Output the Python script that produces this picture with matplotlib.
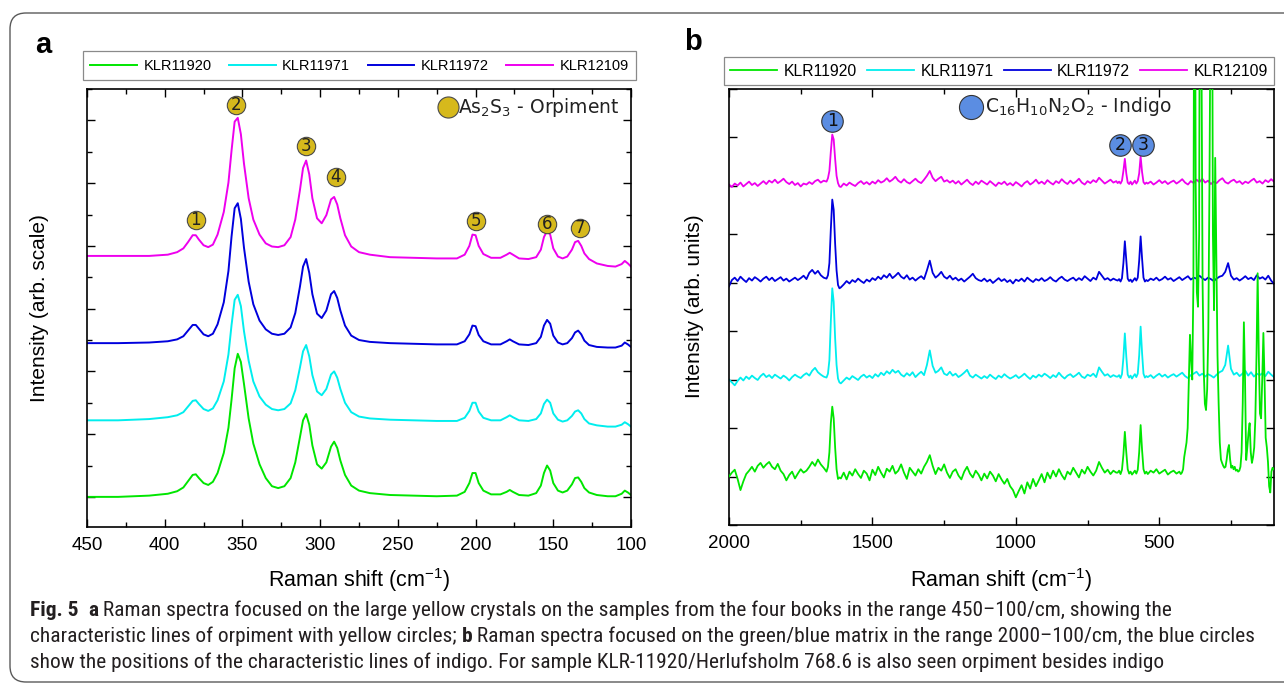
import numpy as np
import matplotlib
matplotlib.use('Agg')
import matplotlib.pyplot as plt
from matplotlib import font_manager as fm
from matplotlib.patches import FancyBboxPatch
from matplotlib.ticker import MultipleLocator
from matplotlib.transforms import IdentityTransform

plt.rcParams['font.family'] = ['Liberation Sans', 'DejaVu Sans']
plt.rcParams['mathtext.default'] = 'regular'

W, H = 1284, 687

# ---------------- data ----------------
samples = ['KLR11920', 'KLR11971', 'KLR11972', 'KLR12109']
colors = ['#00e600', '#00eeee', '#0000dd', '#ee00ee']

# Panel a: Raman shift grid (cm-1) and relative intensities
shift_a = [450, 430, 410, 398, 392, 388, 385, 382, 380, 378,
           375, 372, 369, 366, 362, 359, 357, 355, 353, 351,
           349, 346, 343, 339, 335, 331, 327, 323, 319, 316,
           313, 311, 309, 307, 305, 302, 299, 296, 293, 291,
           289, 287, 284, 280, 275, 268, 255, 240, 225, 212,
           207, 204, 202, 200, 198, 195, 190, 184, 180, 178,
           176, 172, 166, 161, 158, 156, 154, 152, 150, 147,
           144, 141, 138, 136, 134, 132, 130, 127, 122, 115,
           110, 106, 104, 102, 100]

a_klr11920 = [0.00, 0.00, 0.02, 0.05, 0.09, 0.15, 0.25, 0.35, 0.36, 0.30,
              0.22, 0.19, 0.24, 0.38, 0.70, 1.10, 1.55, 2.05, 2.28, 2.15,
              1.80, 1.25, 0.85, 0.52, 0.30, 0.17, 0.14, 0.17, 0.30, 0.55,
              0.95, 1.22, 1.32, 1.15, 0.82, 0.52, 0.45, 0.55, 0.80, 0.88,
              0.78, 0.58, 0.35, 0.18, 0.10, 0.06, 0.03, 0.02, 0.01, 0.02,
              0.08, 0.22, 0.38, 0.38, 0.22, 0.10, 0.04, 0.04, 0.08, 0.11,
              0.08, 0.03, 0.02, 0.06, 0.18, 0.38, 0.50, 0.42, 0.22, 0.10,
              0.07, 0.10, 0.20, 0.30, 0.31, 0.24, 0.14, 0.07, 0.03, 0.01,
              0.01, 0.05, 0.10, 0.07, 0.03]
a_klr11971 = [0.00, 0.00, 0.02, 0.05, 0.08, 0.13, 0.22, 0.31, 0.32, 0.26,
              0.18, 0.15, 0.19, 0.32, 0.62, 1.05, 1.52, 1.92, 2.00, 1.82,
              1.42, 0.95, 0.62, 0.38, 0.25, 0.18, 0.16, 0.18, 0.27, 0.48,
              0.84, 1.10, 1.20, 1.02, 0.72, 0.46, 0.40, 0.50, 0.73, 0.78,
              0.68, 0.50, 0.28, 0.13, 0.06, 0.03, 0.01, 0.00, -0.01, -0.01,
              0.04, 0.15, 0.28, 0.28, 0.14, 0.04, 0.00, 0.00, 0.05, 0.08,
              0.05, 0.00, -0.01, 0.02, 0.11, 0.26, 0.33, 0.28, 0.11, 0.01,
              -0.02, 0.00, 0.07, 0.14, 0.16, 0.11, 0.02, -0.05, -0.08, -0.10,
              -0.10, -0.07, -0.03, -0.06, -0.10]
a_klr11972 = [0.00, 0.00, 0.01, 0.03, 0.06, 0.11, 0.20, 0.29, 0.29, 0.23,
              0.14, 0.11, 0.15, 0.30, 0.65, 1.15, 1.70, 2.15, 2.23, 1.98,
              1.52, 0.98, 0.62, 0.36, 0.22, 0.15, 0.13, 0.15, 0.25, 0.48,
              0.90, 1.22, 1.34, 1.12, 0.78, 0.47, 0.40, 0.52, 0.78, 0.83,
              0.72, 0.52, 0.28, 0.12, 0.05, 0.02, 0.00, -0.01, -0.02, -0.02,
              0.03, 0.14, 0.28, 0.27, 0.13, 0.03, -0.02, -0.02, 0.03, 0.06,
              0.03, -0.02, -0.03, 0.00, 0.10, 0.28, 0.37, 0.31, 0.12, 0.01,
              -0.02, 0.00, 0.08, 0.17, 0.20, 0.14, 0.04, -0.03, -0.06, -0.07,
              -0.07, -0.04, 0.01, -0.02, -0.06]
a_klr12109 = [0.00, 0.00, 0.00, 0.02, 0.06, 0.12, 0.22, 0.33, 0.33, 0.26,
              0.17, 0.14, 0.18, 0.34, 0.70, 1.17, 1.68, 2.14, 2.20, 1.94,
              1.47, 0.92, 0.58, 0.34, 0.20, 0.15, 0.14, 0.17, 0.30, 0.58,
              1.05, 1.40, 1.52, 1.30, 0.92, 0.60, 0.52, 0.65, 0.90, 0.94,
              0.82, 0.60, 0.33, 0.15, 0.06, 0.02, -0.02, -0.03, -0.04, -0.04,
              0.02, 0.16, 0.34, 0.33, 0.16, 0.03, -0.03, -0.03, 0.02, 0.05,
              0.02, -0.04, -0.05, -0.02, 0.10, 0.30, 0.40, 0.34, 0.12, -0.01,
              -0.04, -0.01, 0.10, 0.22, 0.24, 0.16, 0.04, -0.05, -0.12, -0.16,
              -0.17, -0.13, -0.08, -0.12, -0.17]
offsets_a = [0.0, 1.22, 2.45, 3.84]

orpiment_x = [380, 354, 309, 290, 200, 154, 133]
orpiment_y = [4.41, 6.25, 5.59, 5.10, 4.40, 4.35, 4.28]
orpiment_n = ['1', '2', '3', '4', '5', '6', '7']

# Panel b: Raman shift grid (cm-1), intensities in hundredths of a unit
shift_b = np.concatenate([np.arange(2000, 1659, -10), np.arange(1655, 1614, -5),
                          np.arange(1610, 649, -10), np.arange(645, 544, -5),
                          np.arange(540, 99, -10)])
shift_b_green = np.concatenate([np.arange(2000, 1659, -10), np.arange(1655, 1614, -5),
                                np.arange(1610, 649, -10), np.arange(645, 544, -5),
                                np.arange(540, 429, -10), np.arange(425, 100, -4)])

b_klr12109 = """
2 -3 4 0 6 -2 3 8 1 5 -1 4 9 3 10 6 12 5 9 14 7 3 8 1 5 -2 4 2 7 3 9 12 6 10 8
15 30 70 105 95 55 20 5 -2
-3 4 0 6 2 -1 5 9 3 7  2 8 4 11 6 9 15 8 12 18  10 6 13 7 4 9 14 8 5 12
20 30 16 9 14 18 8 11 6 10  4 9 2 7 12 5 1 8 3 10  6 2 9 4 -1 6 3 8 1 5
0 7 3 -2 5 9 2 6 12 4  8 3 11 6 2 9 5 13 7 3  10 4 8 14 6 2 9 5 11 7
16 10 4 8 12 6 9
5 8 4 10 30 55 25 6 3 8 2 6 10 4 9 25 60 28 7 3 6
4 8 2 6 11 5 9 3 7 10  4 8 13 6 2 9 5 12 7 14  6 10 3 8 5 11 15 7 4 9
12 6 9 3 8 5 10 14 6 9  4 11 7 13 8
"""
b_klr11972 = """
-8 5 10 3 12 6 1 9 4 11 7 2 8 12 5 10 3 7 11 4 8 2 6 10 5 9 14 7 20 26 18 24 15 10 8
15 40 110 171 150 80 25 -5 -12
-10 -4 3 -2 5 1 8 3 -1 6  2 9 5 12 7 15 10 18 9 14  20 12 8 15 6 10 4 9 13 7
25 45 20 10 15 22 12 8 14 6  10 4 8 2 7 12 18 9 5 3  8 2 6 -1 4 9 3 7 1 5
-2 6 3 8 2 10 5 1 7 4  9 3 6 11 5 2 8 12 6 3  7 10 4 9 5 13 8 3 10 6
22 14 6 9 4 8 5
4 7 2 9 40 85 45 8 3 6 1 5 9 4 10 45 95 50 10 2 5
3 8 5 10 4 7 12 6 9 3  7 11 5 9 13 6 10 8 14 9  5 10 7 3 8 12 14 22 40 14
6 9 4 8 13 7 10 5 15 8  11 6 14 4 -3
"""
b_klr11971 = """
0 -6 -12 -3 4 -2 6 1 8 3 -1 7 12 5 9 3 10 6 2 8 4 -2 5 10 6 3 9 13 8 18 24 15 10 6 4
12 40 120 188 160 85 30 2 -6
-8 -2 4 0 7 3 -1 6 10 4  8 3 11 6 14 9 17 12 20 14  18 10 6 13 8 15 5 11 16 9
30 60 28 14 18 25 12 9 16 8  12 5 9 14 20 8 4 10 6 2  7 3 10 5 1 8 4 11 6 2
5 9 3 7 12 6 1 8 4 10  6 12 8 3 9 5 14 7 2 8  11 5 9 14 6 3 10 7 12 5
25 16 8 11 5 9 6
6 9 3 11 45 95 48 10 4 8 2 7 11 5 12 50 109 55 12 4 7
5 9 3 8 12 6 10 4 8 11  6 10 14 7 3 9 12 16 8 12  6 11 8 4 10 15 18 30 70 22
10 14 7 12 18 8 15 6 12 9  13 7 16 10 5
"""
b_klr11920 = """
0 8 14 -5 -28 -10 5 12 20 10 22 28 18 25 30 20 15 26 12 5 -8 3 10 -4 6 15 8 12 20 30 22 35 25 18 10
20 50 110 144 120 60 15 -5 -2
-4 8 -6 10 2 15 5 -3 12 6  -8 14 3 20 8 -2 16 10 22 6  12 25 8 -5 18 10 2 15 6 20
30 44 22 5 18 12 25 8 -3 10  15 2 -6 10 20 6 -2 12 4 -8  6 -4 10 2 -10 5 -6 -15 -5 -20
-28 -43 -30 -18 -35 -12 -25 -5 -20 -8  5 -12 8 -4 12 0 15 3 -6 10  4 18 8 -2 14 6 20 10 2 12
30 18 8 14 5 12 8
8 12 5 14 45 92 50 15 6 10 4 8 12 6 14 50 106 55 15 6 10
5 12 8 15 6 10 14 4 9 12 6 10
5 8 15 40 55 70 100 200 292 240 200 400 1400 600 380 350 500 1500 900 400
220 150 137 180 300 600 1000 1300 500 343 657 450 250 150 70 35 28 22 18 20
35 55 65 35 18 22 15 20 12 14 10 12 20 50 150 318 200 34 60 90
110 50 28 40 60 120 250 419 250 130 120 200 296 200 80 60 30 -20 -33 10
18 15
"""
offsets_b = [0.0, 2.0, 4.0, 6.0]

indigo_x = [1640, 636, 556]
indigo_y = [7.33, 6.84, 6.84]
indigo_n = ['1', '2', '3']


def parse(s):
    return np.array(s.split(), dtype=float) / 100.0


vals_b = [parse(b_klr11920), parse(b_klr11971), parse(b_klr11972), parse(b_klr12109)]
xs_b = [shift_b_green, shift_b, shift_b, shift_b]
for xv, yv, nm in zip(xs_b, vals_b, samples):
    assert len(xv) == len(yv), f"{nm}: {len(xv)} vs {len(yv)}"
vals_a = [a_klr11920, a_klr11971, a_klr11972, a_klr12109]
for yv, nm in zip(vals_a, samples):
    assert len(yv) == len(shift_a), f"a {nm}: {len(yv)}"

# ---------------- figure ----------------
fig = plt.figure(figsize=(W / 100, H / 100), dpi=100)
fig.patch.set_facecolor('white')

border = FancyBboxPatch((10, H - 682), 1320, 682 - 13,
                        boxstyle='round,pad=0,rounding_size=16',
                        transform=IdentityTransform(), facecolor='none',
                        edgecolor='#5a5a5a', linewidth=1.0)
fig.patches.append(border)


def style_axes(ax):
    for sp in ax.spines.values():
        sp.set_linewidth(1.2)
        sp.set_color('black')
    ax.tick_params(which='both', direction='in', top=True, right=True,
                   labelleft=False, width=1.0, color='black')
    ax.tick_params(which='major', length=6, labelsize=13.5, pad=7)
    ax.tick_params(which='minor', length=3.5)


# ---- panel a ----
ax_a = fig.add_axes([87 / W, 1 - 527 / H, (631 - 87) / W, (527 - 89) / H])
handles = []
for yv, off, col, nm in zip(vals_a, offsets_a, colors, samples):
    ln, = ax_a.plot(shift_a, np.array(yv) + off, color=col, lw=1.4, label=nm)
    handles.append(ln)
ax_a.set_xlim(450, 100)
ax_a.set_ylim(-0.48, 6.5)
ax_a.xaxis.set_major_locator(MultipleLocator(50))
ax_a.xaxis.set_minor_locator(MultipleLocator(25))
ax_a.yaxis.set_major_locator(MultipleLocator(1))
ax_a.yaxis.set_minor_locator(MultipleLocator(0.5))
style_axes(ax_a)

ax_a.scatter(orpiment_x, orpiment_y, s=175, c='#d6b91c', edgecolors='#4a4a4a',
             linewidths=0.8, zorder=6)
for x, y, n in zip(orpiment_x, orpiment_y, orpiment_n):
    ax_a.text(x, y, n, ha='center', va='center', fontsize=12, family='DejaVu Sans',
              color='#222222', zorder=7)
ax_a.scatter([218], [6.21], s=230, c='#d6b91c', edgecolors='#4a4a4a', linewidths=0.8, zorder=6)
ax_a.text(211, 6.21, 'As$_2$S$_3$ - Orpiment', ha='left', va='center', fontsize=13.5,
          family='DejaVu Sans', color='#222222')

leg_a = ax_a.legend(handles=handles, loc='lower left',
                    bbox_to_anchor=(-0.0074, 1.0205, 1.0165, 0.07), mode='expand',
                    ncol=4, fancybox=False, edgecolor='#8a8a8a', fontsize=10.5,
                    handlelength=3.2, handletextpad=0.45, borderaxespad=0,
                    borderpad=0.5, columnspacing=1.0, framealpha=1)
leg_a.get_frame().set_linewidth(0.9)

fig.text(87 / W + (631 - 87) / W / 2, 1 - 580 / H, 'Raman shift (cm$^{-1}$)',
         ha='center', va='center', fontsize=15.5)
fig.text(40 / W, 1 - 308 / H, 'Intensity (arb. scale)', rotation=90,
         ha='center', va='center', fontsize=15)
fig.text(43 / W, 1 - 45 / H, 'a', ha='center', va='center', fontsize=21, fontweight='bold')

# ---- panel b ----
ax_b = fig.add_axes([729 / W, 1 - 525 / H, (1274 - 729) / W, (525 - 88.5) / H])
handles_b = []
zord = [3, 2, 2, 2]
for xv, yv, off, col, nm, z in zip(xs_b, vals_b, offsets_b, colors, samples, zord):
    ln, = ax_b.plot(xv, yv + off, color=col, lw=1.3, label=nm, zorder=z)
    handles_b.append(ln)
ax_b.set_xlim(2000, 100)
ax_b.set_ylim(-1, 8)
ax_b.xaxis.set_major_locator(MultipleLocator(500))
ax_b.xaxis.set_minor_locator(MultipleLocator(250))
ax_b.yaxis.set_major_locator(MultipleLocator(1))
style_axes(ax_b)

ax_b.scatter(indigo_x, indigo_y, s=240, c='#5b8de2', edgecolors='#333333',
             linewidths=0.8, zorder=6)
for x, y, n in zip(indigo_x, indigo_y, indigo_n):
    ax_b.text(x, y, n, ha='center', va='center', fontsize=12.5, family='DejaVu Sans',
              color='#111111', zorder=7)
ax_b.scatter([1157], [7.62], s=300, c='#5b8de2', edgecolors='#333333', linewidths=0.8, zorder=6)
ax_b.text(1108, 7.62, 'C$_{16}$H$_{10}$N$_2$O$_2$ - Indigo', ha='left', va='center',
          fontsize=13.5, family='DejaVu Sans', color='#222222')

leg_b = ax_b.legend(handles=handles_b, loc='lower left',
                    bbox_to_anchor=(-0.009, 1.008, 1.009, 0.07), mode='expand',
                    ncol=4, fancybox=False, edgecolor='#8a8a8a', fontsize=11.3,
                    handlelength=3.0, handletextpad=0.4, borderaxespad=0,
                    borderpad=0.4, columnspacing=0.5, framealpha=1)
leg_b.get_frame().set_linewidth(0.9)

fig.text(729 / W + (1274 - 729) / W / 2, 1 - 580 / H, 'Raman shift (cm$^{-1}$)',
         ha='center', va='center', fontsize=15.5)
fig.text(695 / W, 1 - 306 / H, 'Intensity (arb. units)', rotation=90,
         ha='center', va='center', fontsize=15)
fig.text(693 / W, 1 - 42 / H, 'b', ha='center', va='center', fontsize=21, fontweight='bold')

# ---- caption ----
def _wnum(w):
    if isinstance(w, (int, float)):
        return float(w)
    table = {'thin': 100, 'extralight': 200, 'ultralight': 200, 'light': 300,
             'normal': 400, 'regular': 400, 'book': 400, 'medium': 500,
             'semibold': 600, 'demibold': 600, 'bold': 700, 'extrabold': 800,
             'heavy': 900, 'black': 900}
    return float(table.get(str(w).lower(), 400))


def _is_narrow(f):
    st = str(f.stretch).lower()
    nm = f.name.lower()
    fn = str(f.fname).lower()
    return ('condensed' in st) or ('condensed' in nm) or ('narrow' in nm) or \
           ('condensed' in fn) or ('narrow' in fn)


def pick_caption_fonts():
    prefs = ['open sans', 'noto sans', 'liberation sans', 'roboto', 'dejavu sans']
    cands = [f for f in fm.fontManager.ttflist
             if _is_narrow(f) and f.style == 'normal' and 'mono' not in f.name.lower()
             and 'serif' not in f.name.lower()]
    best_reg, best_bold = None, None
    for pref in prefs:
        fam = [f for f in cands if f.name.lower().startswith(pref)]
        reg = [f for f in fam if abs(_wnum(f.weight) - 400) <= 50]
        bld = [f for f in fam if _wnum(f.weight) >= 600]
        if reg and bld:
            reg.sort(key=lambda f: ('extra' in str(f.stretch).lower() or 'extra' in f.fname.lower(),
                                    'semi' in str(f.stretch).lower() or 'semi' in f.fname.lower()))
            bld.sort(key=lambda f: (abs(_wnum(f.weight) - 700),
                                    'extra' in str(f.stretch).lower() or 'extra' in f.fname.lower(),
                                    'semi' in str(f.stretch).lower() or 'semi' in f.fname.lower()))
            best_reg, best_bold = reg[0], bld[0]
            break
    if best_reg is None:
        return (fm.FontProperties(family=['Open Sans', 'DejaVu Sans']),
                fm.FontProperties(family=['Open Sans', 'DejaVu Sans'], weight='bold'))
    return fm.FontProperties(fname=best_reg.fname), fm.FontProperties(fname=best_bold.fname)


fp_reg, fp_bold = pick_caption_fonts()

cap_lines = [
    [('Fig. 5', True), ('  ', False), ('a', True),
     (' Raman spectra focused on the large yellow crystals on the samples from the four books in the range 450\u2013100/cm, showing the', False)],
    [('characteristic lines of orpiment with yellow circles; ', False), ('b', True),
     (' Raman spectra focused on the green/blue matrix in the range 2000\u2013100/cm, the blue circles', False)],
    [('show the positions of the characteristic lines of indigo. For sample KLR-11920/Herlufsholm 768.6 is also seen orpiment besides indigo', False)],
]
cap_y = [610, 636, 662]
renderer = fig.canvas.get_renderer()


def make_text(x, y, txt, bold, fs, **kw):
    fp = (fp_bold if bold else fp_reg).copy()
    fp.set_size(fs)
    return fig.text(x, y, txt, fontproperties=fp, **kw)


def run_width(txt, bold, fs):
    t = make_text(0, 0, txt + '|', bold, fs)
    t2 = make_text(0, 0, '|', bold, fs)
    w = t.get_window_extent(renderer).width - t2.get_window_extent(renderer).width
    t.remove()
    t2.remove()
    return w


fs0 = 13.0
w2 = sum(run_width(t, b, fs0) for t, b in cap_lines[1])
fs_cap = min(fs0 * (1250 - 30) / w2, 16.0)

for line, y in zip(cap_lines, cap_y):
    x = 30
    for txt, bold in line:
        make_text(x / W, 1 - y / H, txt, bold, fs_cap, ha='left', va='center',
                  color='#231f20')
        x += run_width(txt, bold, fs_cap)

fig.savefig('out.png', dpi=100)
